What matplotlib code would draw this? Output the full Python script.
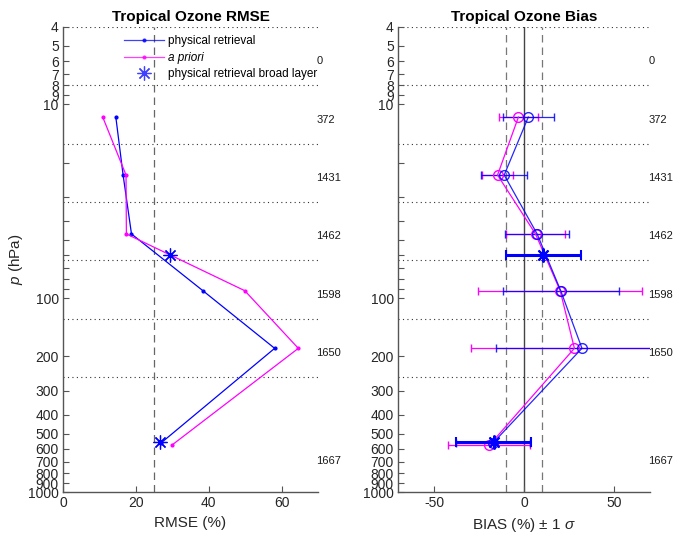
import matplotlib
matplotlib.use("Agg")
import matplotlib.pyplot as plt
from matplotlib.ticker import FixedLocator, NullLocator, FixedFormatter

plt.rcParams['font.family'] = ['Liberation Sans', 'DejaVu Sans']
plt.rcParams['mathtext.fontset'] = 'custom'
plt.rcParams['mathtext.it'] = 'Liberation Sans:italic'
plt.rcParams['mathtext.rm'] = 'Liberation Sans'
plt.rcParams['axes.unicode_minus'] = False

# ---- data ----
p_ret = [11.65, 23.2, 46.7, 91.6, 181.6, 561]
p_apr = [11.65, 23.2, 46.7, 91.6, 181.6, 573]
rmse_ret = [14.5, 16.5, 18.8, 38.4, 58.1, 26.8]
rmse_apr = [10.9, 17.3, 17.4, 49.9, 64.6, 29.9]
p_broad = [60, 551]
rmse_broad = [29.3, 26.6]

bias_ret = [2.4, -11.0, 7.3, 20.4, 32.2, -17.4]
sig_ret = [14.2, 12.8, 17.6, 32.3, 47.8, 20.6]
bias_apr = [-3.1, -14.7, 6.4, 20.1, 28.0, -19.2]
sig_apr = [11.0, 8.6, 16.5, 45.5, 57.7, 22.8]
bias_broad = [10.6, -16.9]
sig_broad = [20.8, 20.7]

layer_bounds = [4, 8, 16, 32, 64, 128, 256]
layer_counts = ['0', '372', '1431', '1462', '1598', '1650', '1667']
count_p = [6, 12, 24, 48, 96, 192, 690]

ytick_vals = [4, 5, 6, 7, 8, 9, 10, 20, 30, 40, 50, 60, 70, 80, 90,
              100, 200, 300, 400, 500, 600, 700, 800, 900, 1000]
ytick_labels = ['4', '5', '6', '7', '8', '9', '10', '', '', '', '', '', '', '', '',
                '100', '200', '300', '400', '500', '600', '700', '800', '900', '1000']

BLUE = '#0000ff'
MAG = '#ff00ff'
AX = '#555555'

fig = plt.figure(figsize=(6.76, 5.40), dpi=100)
W, H = 676, 540
axL = fig.add_axes([63 / W, 1 - 492 / H, 255 / W, 465 / H])
axR = fig.add_axes([398 / W, 1 - 492 / H, 252 / W, 465 / H])


def style(ax, xlim):
    ax.set_yscale('log')
    ax.set_ylim(1000, 4)
    ax.set_xlim(*xlim)
    ax.yaxis.set_major_locator(FixedLocator(ytick_vals))
    ax.yaxis.set_major_formatter(FixedFormatter(ytick_labels))
    ax.yaxis.set_minor_locator(NullLocator())
    ax.spines['top'].set_visible(False)
    ax.spines['right'].set_visible(False)
    for s in ('left', 'bottom'):
        ax.spines[s].set_color(AX)
        ax.spines[s].set_linewidth(1.0)
    ax.tick_params(direction='in', length=4, color=AX, labelsize=10,
                   labelcolor='#262626', pad=3)
    for b in layer_bounds:
        ax.axhline(b, color='#333333', linestyle=(0, (1, 3)), linewidth=0.8, zorder=1)
    for cp, c in zip(count_p, layer_counts):
        ax.text(xlim[1] - (xlim[1] - xlim[0]) / 140, cp, c, fontsize=8,
                ha='left', va='center', color='#1a1a1a', clip_on=False)


# ---- left panel ----
style(axL, (0, 70))
axL.set_xticks([0, 20, 40, 60])
axL.axvline(25, color='#666666', linestyle=(0, (6, 4)), linewidth=0.9, zorder=1)
axL.plot(rmse_ret, p_ret, color=BLUE, marker='.', markersize=4, linewidth=0.9,
         label='physical retrieval', zorder=3)
axL.plot(rmse_apr, p_apr, color=MAG, marker='.', markersize=4, linewidth=0.9,
         label='a priori', zorder=3)
axL.plot(rmse_broad, p_broad, linestyle='none', color=BLUE, marker=(8, 2, 0),
         markersize=10, markeredgewidth=0.9, label='physical retrieval broad layer', zorder=4)
axL.set_title('Tropical Ozone RMSE', fontsize=11, fontweight='bold', pad=4)
axL.set_xlabel('RMSE (%)', fontsize=11, color='#262626')
axL.set_ylabel(r'$p$ (hPa)', fontsize=11, color='#262626', labelpad=2)
leg = axL.legend(loc='upper left', bbox_to_anchor=(0.205, 1.0), frameon=False,
                 fontsize=8.5, handlelength=3.4, handletextpad=0.4,
                 labelspacing=0.38, borderaxespad=0.3)
leg.get_texts()[1].set_fontstyle('italic')
for h in leg.legend_handles:
    h.set_alpha(0.75)

# ---- right panel ----
style(axR, (-70, 70))
axR.set_xticks([-50, 0, 50])
axR.axvline(0, color='#444444', linewidth=1.0, zorder=1)
axR.axvline(-10, color='#777777', linestyle=(0, (6, 4)), linewidth=0.9, zorder=1)
axR.axvline(10, color='#777777', linestyle=(0, (6, 4)), linewidth=0.9, zorder=1)
axR.errorbar(bias_apr, p_apr, xerr=sig_apr, color=MAG, marker='o', markersize=7,
             markerfacecolor='none', linewidth=0.9, elinewidth=0.9, capsize=3, zorder=3)
axR.errorbar(bias_ret, p_ret, xerr=sig_ret, color=BLUE, marker='o', markersize=7,
             markerfacecolor='none', linewidth=0.9, elinewidth=0.9, capsize=3, zorder=3,
             alpha=0.85)
axR.errorbar(bias_broad, p_broad, xerr=sig_broad, color=BLUE, marker=(8, 2, 0),
             markersize=10, markeredgewidth=1.5, linestyle='none', elinewidth=2.2,
             capsize=3.5, capthick=2, zorder=4)
axR.set_title('Tropical Ozone Bias', fontsize=11, fontweight='bold', pad=4)
axR.set_xlabel(r'BIAS (%) $\pm$ 1 $\sigma$', fontsize=11, color='#262626')

fig.savefig('out.png', dpi=100)
